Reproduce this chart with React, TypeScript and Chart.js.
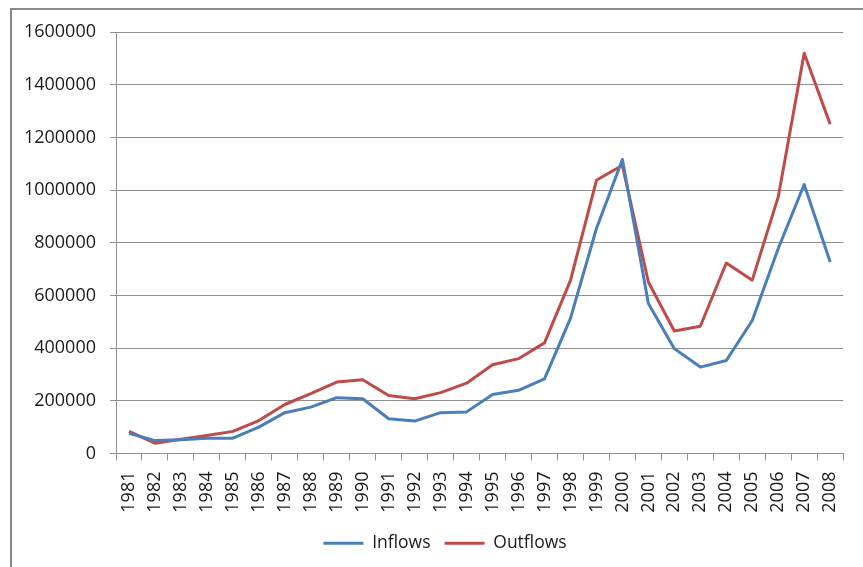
import { useEffect, useRef } from "react";
import { Chart, registerables } from "chart.js";

Chart.register(...registerables);

const years = [
  "1981", "1982", "1983", "1984", "1985", "1986", "1987", "1988", "1989", "1990",
  "1991", "1992", "1993", "1994", "1995", "1996", "1997", "1998", "1999", "2000",
  "2001", "2002", "2003", "2004", "2005", "2006", "2007", "2008",
];

const inflows = [
  77000, 49000, 52000, 58000, 58000, 100000, 155000, 176000, 212000, 208000,
  132000, 123000, 155000, 158000, 224000, 240000, 283000, 513000, 854000, 1116000,
  569000, 398000, 328000, 353000, 505000, 778000, 1021000, 727000,
];

const outflows = [
  84000, 39000, 54000, 68000, 84000, 125000, 186000, 227000, 271000, 280000,
  220000, 208000, 231000, 267000, 337000, 360000, 420000, 657000, 1037000, 1094000,
  651000, 465000, 483000, 723000, 658000, 974000, 1519000, 1250000,
];

const yMin = 0;
const yMax = 1600000;
const yStep = 200000;

const FONT = "'Open Sans', 'Liberation Sans', sans-serif";
const TEXT = "#1a1a1a";
const GRID = "#8f8f8f";

const legendShift = {
  id: "legendShift",
  afterLayout(chart: any) {
    const l = chart.legend;
    if (l) {
      l.left += 10;
      l.right += 10;
    }
  },
};

export default function App() {
  const ref = useRef<HTMLCanvasElement | null>(null);

  useEffect(() => {
    if (!ref.current) return;
    const chart = new Chart(ref.current, {
      type: "line",
      data: {
        labels: years,
        datasets: [
          {
            label: "Inflows",
            data: inflows,
            borderColor: "#4a7ebb",
            backgroundColor: "#4a7ebb",
            borderWidth: 3,
            pointRadius: 0,
            tension: 0,
            borderJoinStyle: "round",
          },
          {
            label: "Outflows",
            data: outflows,
            borderColor: "#be4b48",
            backgroundColor: "#be4b48",
            borderWidth: 3,
            pointRadius: 0,
            tension: 0,
            borderJoinStyle: "round",
          },
        ],
      },
      options: {
        responsive: false,
        animation: false,
        layout: { padding: { left: 20, right: 13, top: 32, bottom: 5 } },
        plugins: {
          tooltip: { enabled: false },
          legend: {
            position: "bottom",
            labels: {
              usePointStyle: true,
              pointStyle: "line",
              pointStyleWidth: 40,
              boxHeight: 17,
              padding: 14,
              color: TEXT,
              font: { family: FONT, size: 17.5 },
            },
          },
        },
        scales: {
          x: {
            offset: true,
            grid: {
              offset: true,
              drawOnChartArea: false,
              drawTicks: true,
              tickLength: 7,
              color: GRID,
            },
            border: { display: true, color: GRID, width: 1 },
            ticks: {
              minRotation: 90,
              maxRotation: 90,
              autoSkip: false,
              padding: 11,
              color: TEXT,
              font: { family: FONT, size: 18 },
            },
            afterFit: (s: any) => {
              s.height = 67;
            },
          },
          y: {
            min: yMin,
            max: yMax,
            grid: { color: GRID, tickLength: 6, lineWidth: 1 },
            border: { display: true, color: GRID, width: 1 },
            ticks: {
              stepSize: yStep,
              padding: 14,
              color: TEXT,
              font: { family: FONT, size: 18 },
              callback: (v: any) => String(v),
            },
            afterFit: (s: any) => {
              s.width = 96;
            },
          },
        },
      },
      plugins: [legendShift],
    });
    return () => chart.destroy();
  }, []);

  return (
    <div style={{ position: "absolute", left: 0, top: 0, width: 863, height: 567, background: "#fff" }}>
      <canvas ref={ref} width={863} height={567} style={{ position: "absolute", left: 0, top: 0 }} />
      <div
        style={{
          position: "absolute",
          left: 10,
          top: 8,
          width: 853,
          height: 559,
          boxSizing: "border-box",
          borderTop: "2px solid #8a8a8a",
          borderLeft: "2px solid #8a8a8a",
          pointerEvents: "none",
        }}
      />
    </div>
  );
}
